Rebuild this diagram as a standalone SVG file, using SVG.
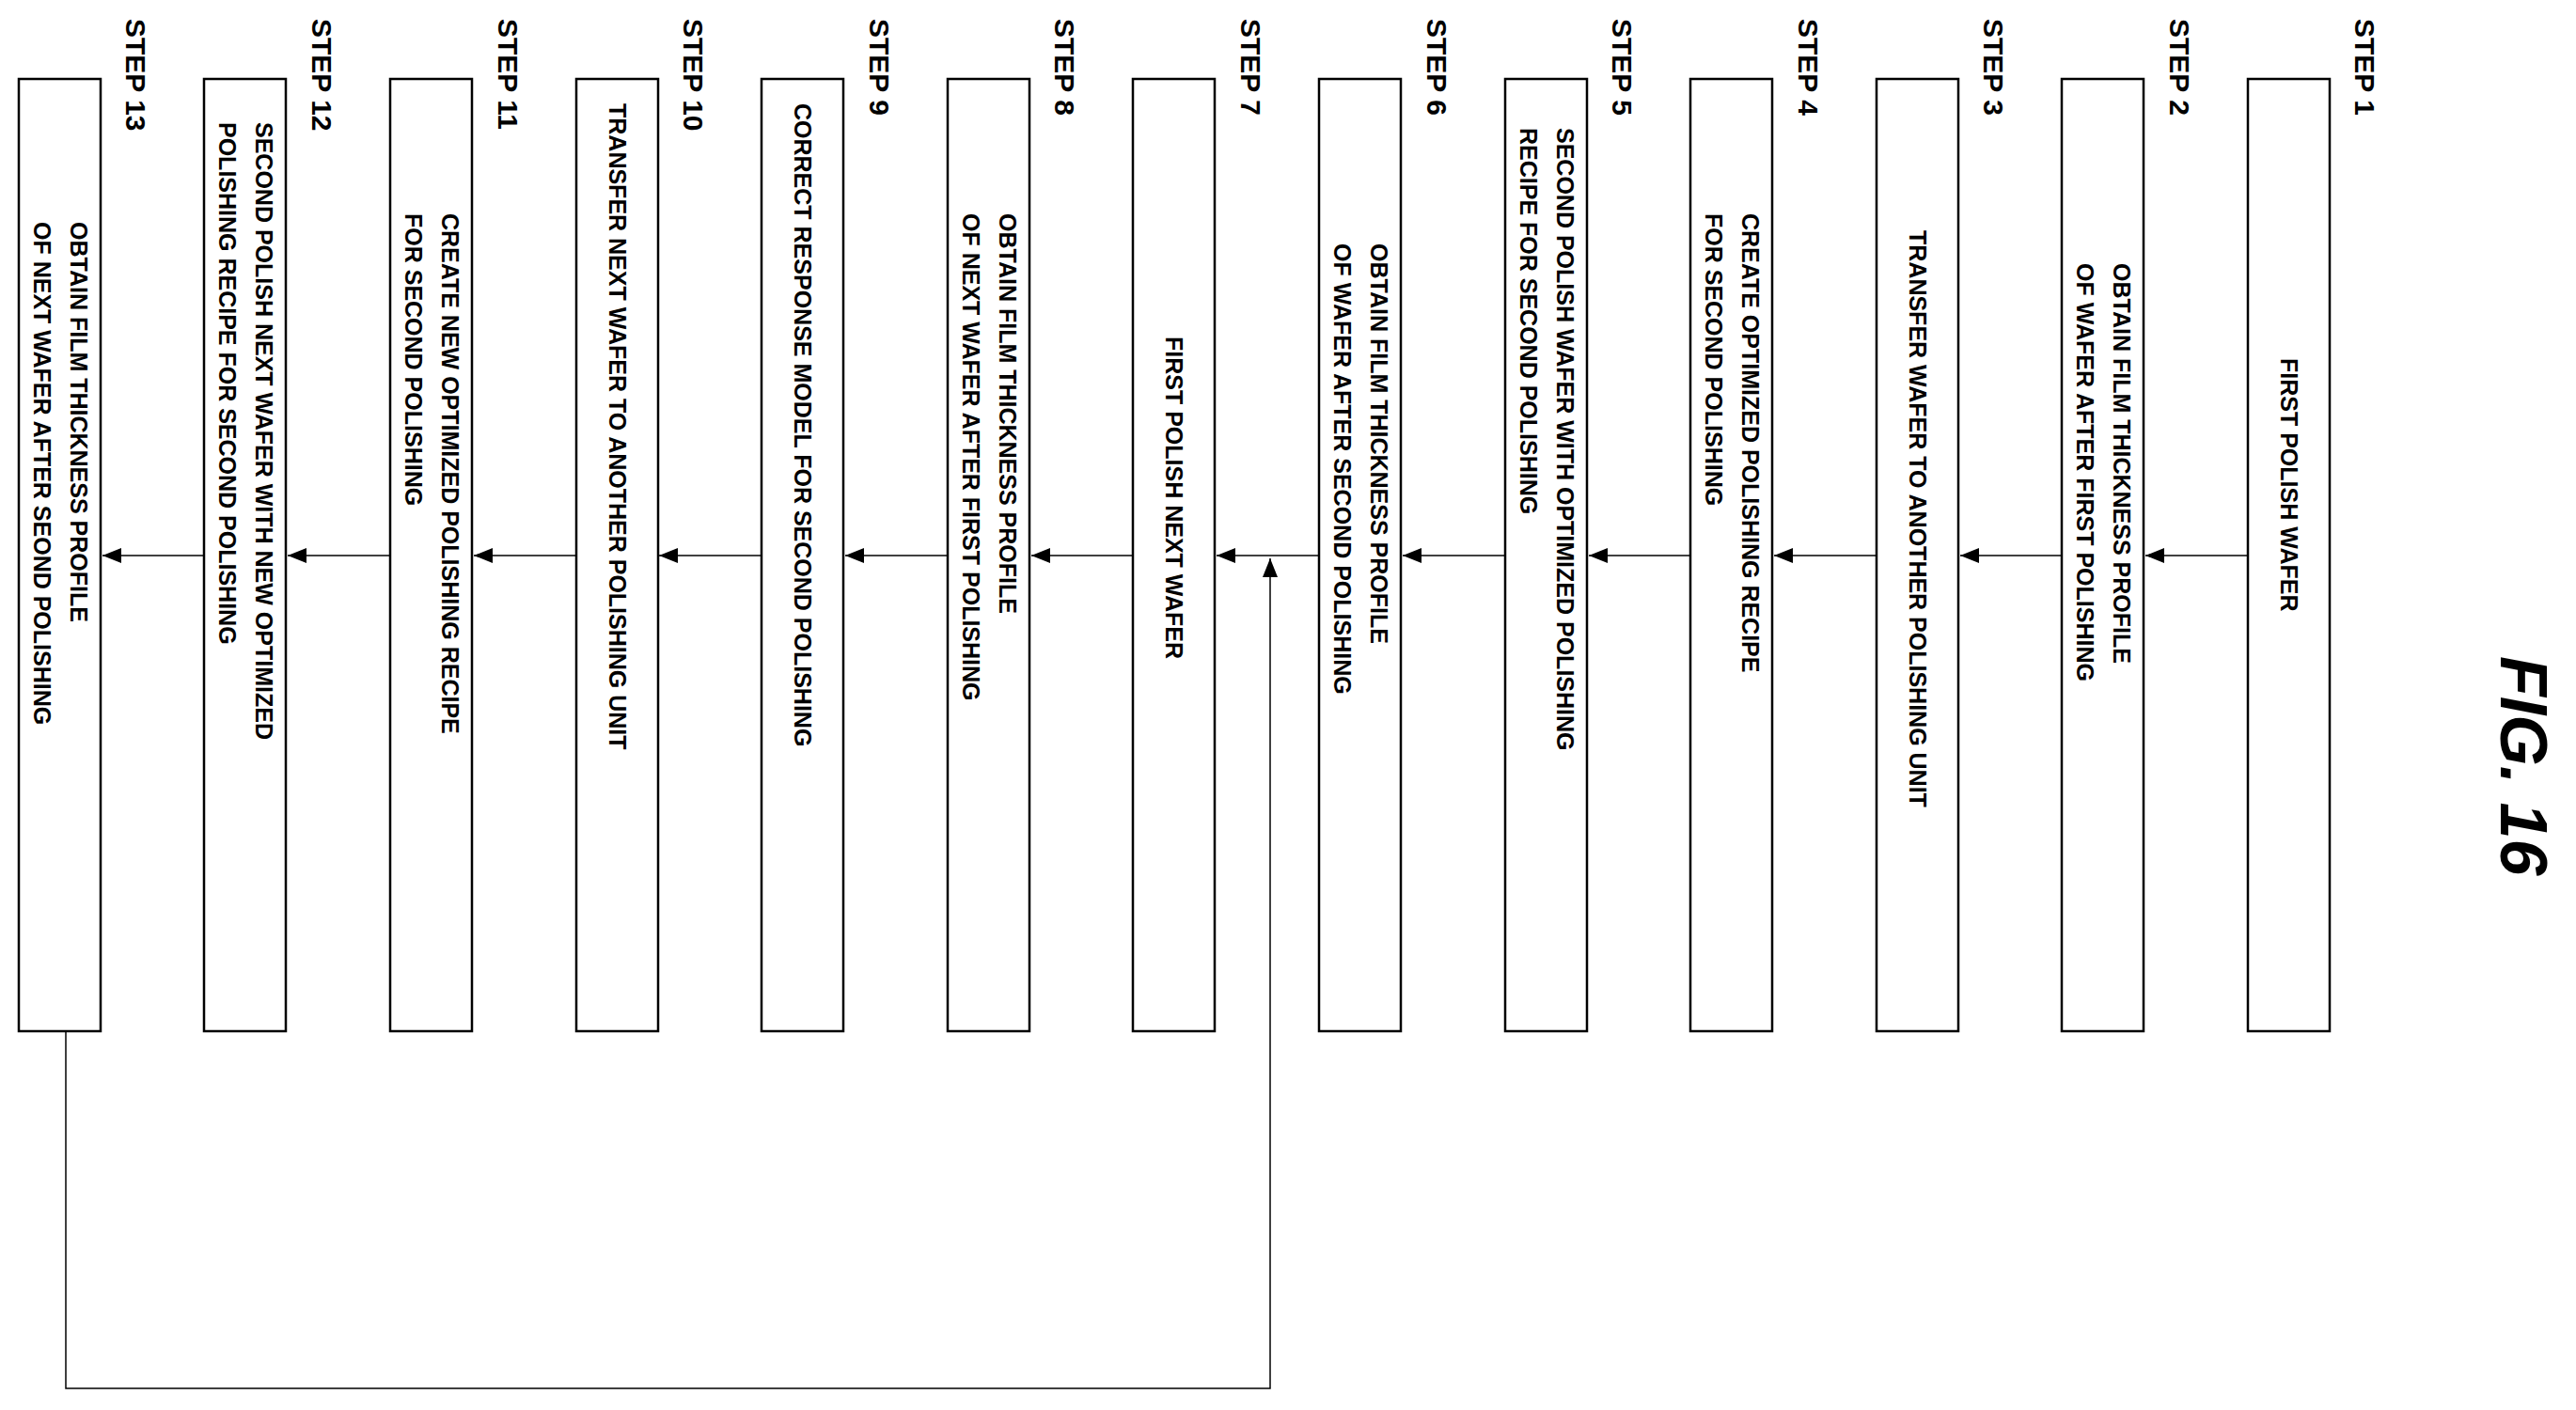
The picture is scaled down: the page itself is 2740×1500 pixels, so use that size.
<svg xmlns="http://www.w3.org/2000/svg" width="2740" height="1500" viewBox="0 0 2740 1500">
<style>
.box{fill:#fff;stroke:#000;stroke-width:2.5}
.t{font-family:"Liberation Sans",Arial,sans-serif;font-weight:bold;font-size:25px;fill:#000}
.s{font-family:"Liberation Sans",Arial,sans-serif;font-weight:bold;font-size:30px;fill:#000}
.c{fill:none;stroke:#000;stroke-width:1.5}
</style>
<defs><marker id="ah" viewBox="0 0 10 10" refX="10" refY="5" markerWidth="20" markerHeight="20" markerUnits="userSpaceOnUse" orient="auto"><path d="M0,1L10,5L0,9z" fill="#000"/></marker></defs>
<rect width="2740" height="1500" fill="#fff"/>
<text class="s" style="font-size:70px;font-style:italic" transform="translate(2660,698) rotate(90)">FIG. 16</text>
<g id="connectors">
<path class="c" d="M2391,591H2282" marker-end="url(#ah)"/>
<path class="c" d="M2193,591H2085" marker-end="url(#ah)"/>
<path class="c" d="M1996,591H1887" marker-end="url(#ah)"/>
<path class="c" d="M1798,591H1690" marker-end="url(#ah)"/>
<path class="c" d="M1601,591H1492" marker-end="url(#ah)"/>
<path class="c" d="M1403,591H1294" marker-end="url(#ah)"/>
<path class="c" d="M1205,591H1097" marker-end="url(#ah)"/>
<path class="c" d="M1008,591H899" marker-end="url(#ah)"/>
<path class="c" d="M810,591H701" marker-end="url(#ah)"/>
<path class="c" d="M613,591H504" marker-end="url(#ah)"/>
<path class="c" d="M415,591H306" marker-end="url(#ah)"/>
<path class="c" d="M217,591H109" marker-end="url(#ah)"/>
<path class="c" d="M70,1097V1477H1351V594" marker-end="url(#ah)"/>
</g>
<g id="step1"><rect class="box" x="2391" y="84" width="87" height="1013"/><text class="s" transform="translate(2505,20) rotate(90)">STEP 1</text><g transform="translate(2435,381) rotate(90)"><text class="t" y="9">FIRST POLISH WAFER</text></g></g>
<g id="step2"><rect class="box" x="2193" y="84" width="87" height="1013"/><text class="s" transform="translate(2308,20) rotate(90)">STEP 2</text><g transform="translate(2237,280) rotate(90)"><text class="t" y="-11">OBTAIN FILM THICKNESS PROFILE</text><text class="t" y="28">OF WAFER AFTER FIRST POLISHING</text></g></g>
<g id="step3"><rect class="box" x="1996" y="84" width="87" height="1013"/><text class="s" transform="translate(2110,20) rotate(90)">STEP 3</text><g transform="translate(2040,245) rotate(90)"><text class="t" y="9">TRANSFER WAFER TO ANOTHER POLISHING UNIT</text></g></g>
<g id="step4"><rect class="box" x="1798" y="84" width="87" height="1013"/><text class="s" transform="translate(1913,20) rotate(90)">STEP 4</text><g transform="translate(1842,227) rotate(90)"><text class="t" y="-11">CREATE OPTIMIZED POLISHING RECIPE</text><text class="t" y="28">FOR SECOND POLISHING</text></g></g>
<g id="step5"><rect class="box" x="1601" y="84" width="87" height="1013"/><text class="s" transform="translate(1715,20) rotate(90)">STEP 5</text><g transform="translate(1645,136) rotate(90)"><text class="t" y="-11">SECOND POLISH WAFER WITH OPTIMIZED POLISHING</text><text class="t" y="28">RECIPE FOR SECOND POLISHING</text></g></g>
<g id="step6"><rect class="box" x="1403" y="84" width="87" height="1013"/><text class="s" transform="translate(1518,20) rotate(90)">STEP 6</text><g transform="translate(1447,259) rotate(90)"><text class="t" y="-11">OBTAIN FILM THICKNESS PROFILE</text><text class="t" y="28">OF WAFER AFTER SECOND POLISHING</text></g></g>
<g id="step7"><rect class="box" x="1205" y="84" width="87" height="1013"/><text class="s" transform="translate(1320,20) rotate(90)">STEP 7</text><g transform="translate(1249,358) rotate(90)"><text class="t" y="9">FIRST POLISH NEXT WAFER</text></g></g>
<g id="step8"><rect class="box" x="1008" y="84" width="87" height="1013"/><text class="s" transform="translate(1122,20) rotate(90)">STEP 8</text><g transform="translate(1052,227) rotate(90)"><text class="t" y="-11">OBTAIN FILM THICKNESS PROFILE</text><text class="t" y="28">OF NEXT WAFER AFTER FIRST POLISHING</text></g></g>
<g id="step9"><rect class="box" x="810" y="84" width="87" height="1013"/><text class="s" transform="translate(925,20) rotate(90)">STEP 9</text><g transform="translate(854,110) rotate(90)"><text class="t" y="9">CORRECT RESPONSE MODEL FOR SECOND POLISHING</text></g></g>
<g id="step10"><rect class="box" x="613" y="84" width="87" height="1013"/><text class="s" transform="translate(727,20) rotate(90)">STEP 10</text><g transform="translate(657,110) rotate(90)"><text class="t" y="9">TRANSFER NEXT WAFER TO ANOTHER POLISHING UNIT</text></g></g>
<g id="step11"><rect class="box" x="415" y="84" width="87" height="1013"/><text class="s" transform="translate(530,20) rotate(90)">STEP 11</text><g transform="translate(459,227) rotate(90)"><text class="t" y="-11">CREATE NEW OPTIMIZED POLISHING RECIPE</text><text class="t" y="28">FOR SECOND POLISHING</text></g></g>
<g id="step12"><rect class="box" x="217" y="84" width="87" height="1013"/><text class="s" transform="translate(332,20) rotate(90)">STEP 12</text><g transform="translate(261,130) rotate(90)"><text class="t" y="-11">SECOND POLISH NEXT WAFER WITH NEW OPTIMIZED</text><text class="t" y="28">POLISHING RECIPE FOR SECOND POLISHING</text></g></g>
<g id="step13"><rect class="box" x="20" y="84" width="87" height="1013"/><text class="s" transform="translate(134,20) rotate(90)">STEP 13</text><g transform="translate(64,236) rotate(90)"><text class="t" y="-11">OBTAIN FILM THICKNESS PROFILE</text><text class="t" y="28">OF NEXT WAFER AFTER SEOND POLISHING</text></g></g>
</svg>
